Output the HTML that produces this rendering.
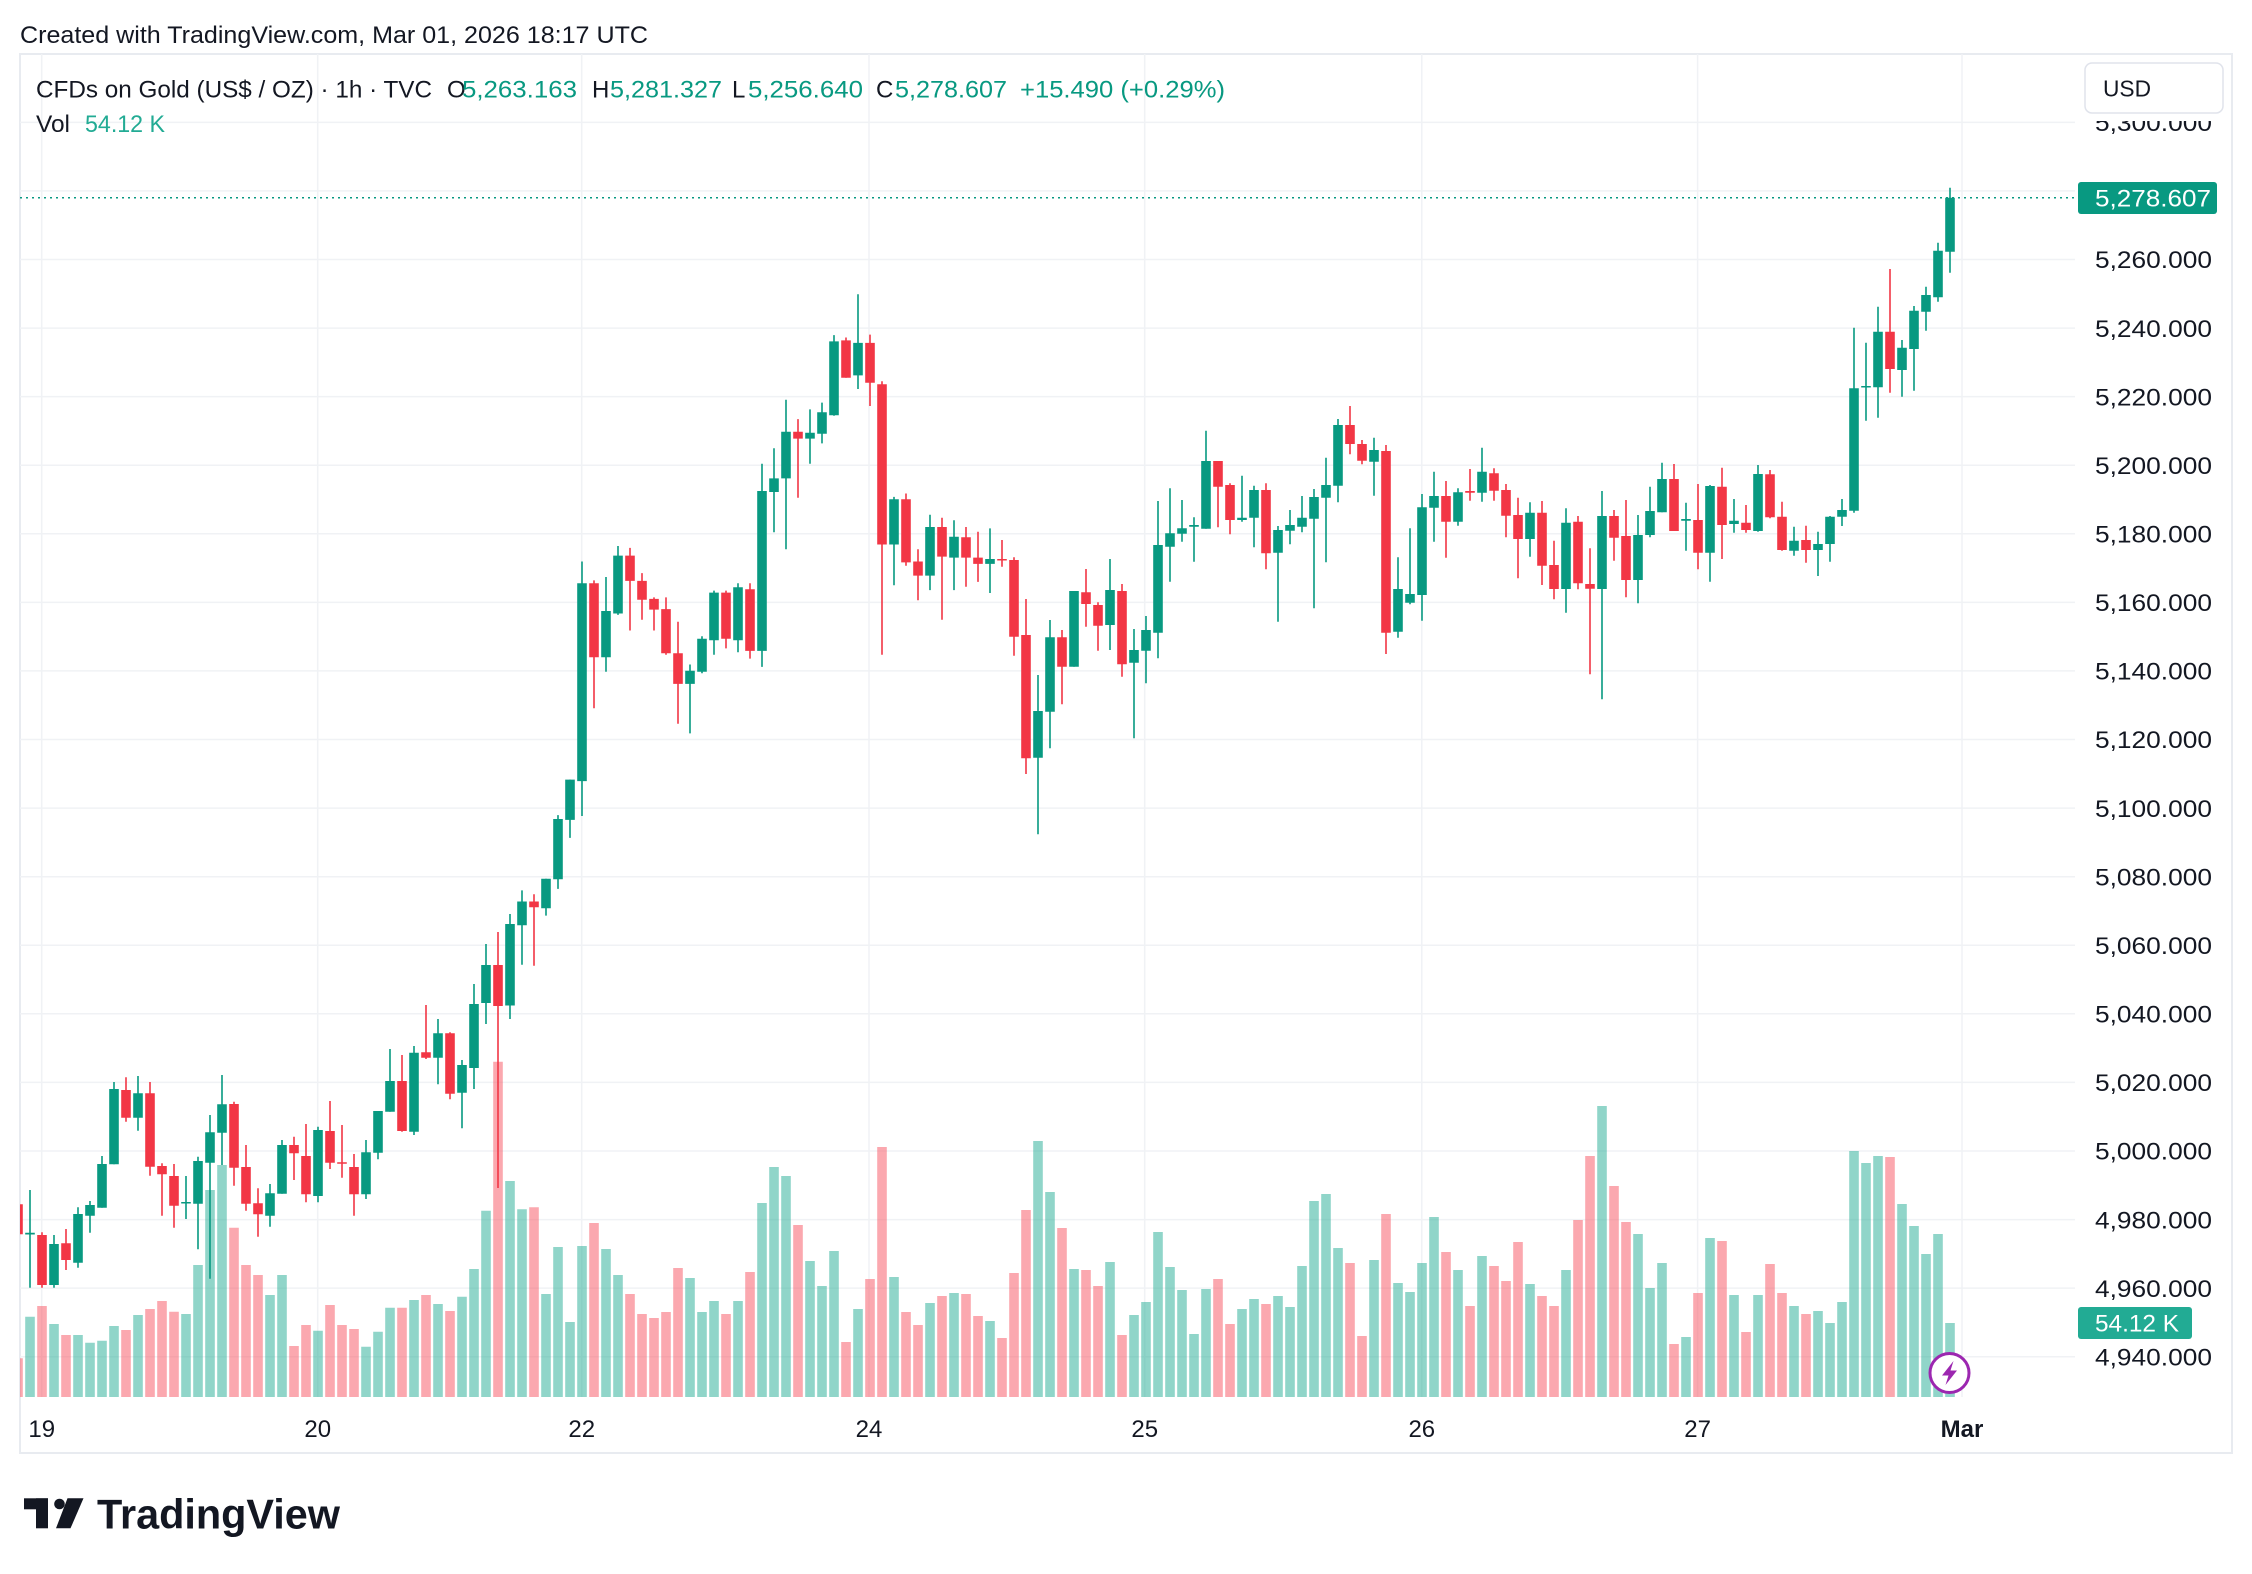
<!DOCTYPE html>
<html><head><meta charset="utf-8"><style>html,body{margin:0;padding:0;background:#fff;}svg{display:block}</style></head><body>
<svg width="2252" height="1574" viewBox="0 0 2252 1574" xmlns="http://www.w3.org/2000/svg" font-family="'Liberation Sans', Arial, sans-serif">
<defs><clipPath id="pane"><rect x="20" y="54" width="2055" height="1343"/></clipPath></defs>
<rect width="2252" height="1574" fill="#fff"/>
<text x="20" y="43" font-size="24" fill="#131722" textLength="628" lengthAdjust="spacingAndGlyphs">Created with TradingView.com, Mar 01, 2026 18:17 UTC</text>
<rect x="20" y="54" width="2212" height="1399" fill="none" stroke="#e8ebf0" stroke-width="2"/>
<g clip-path="url(#pane)">
<path d="M41.7 54V1397M317.7 54V1397M581.7 54V1397M869 54V1397M1144.7 54V1397M1421.8 54V1397M1697.6 54V1397M1962 54V1397" stroke="#f0f2f5" stroke-width="1.5"/>
<path d="M20 122.35H2075M20 190.9H2075M20 259.5H2075M20 328.1H2075M20 396.6H2075M20 465.2H2075M20 533.8H2075M20 602.4H2075M20 670.9H2075M20 739.5H2075M20 808.1H2075M20 876.7H2075M20 945.2H2075M20 1013.8H2075M20 1082.4H2075M20 1151H2075M20 1219.6H2075M20 1288.1H2075M20 1356.7H2075" stroke="#f0f2f5" stroke-width="1.5"/>
<path fill="rgba(34,171,148,0.5)" d="M25.2 1316.7h9.6V1397h-9.6zM49.2 1324h9.6V1397h-9.6zM73.2 1335h9.6V1397h-9.6zM85.2 1342.7h9.6V1397h-9.6zM97.2 1340.7h9.6V1397h-9.6zM109.2 1326h9.6V1397h-9.6zM133.2 1315h9.6V1397h-9.6zM181.2 1314h9.6V1397h-9.6zM193.2 1265h9.6V1397h-9.6zM205.2 1190h9.6V1397h-9.6zM217.2 1165h9.6V1397h-9.6zM265.2 1295h9.6V1397h-9.6zM277.2 1275h9.6V1397h-9.6zM313.2 1330.7h9.6V1397h-9.6zM361.2 1346.7h9.6V1397h-9.6zM373.2 1331.7h9.6V1397h-9.6zM385.2 1307.7h9.6V1397h-9.6zM409.2 1300h9.6V1397h-9.6zM433.2 1304h9.6V1397h-9.6zM457.2 1296.7h9.6V1397h-9.6zM469.2 1269h9.6V1397h-9.6zM481.2 1210.7h9.6V1397h-9.6zM505.2 1181h9.6V1397h-9.6zM517.2 1209.3h9.6V1397h-9.6zM541.2 1294h9.6V1397h-9.6zM553.2 1247h9.6V1397h-9.6zM565.2 1322h9.6V1397h-9.6zM577.2 1246h9.6V1397h-9.6zM601.2 1249h9.6V1397h-9.6zM613.2 1275h9.6V1397h-9.6zM685.2 1278h9.6V1397h-9.6zM697.2 1312h9.6V1397h-9.6zM709.2 1301h9.6V1397h-9.6zM733.2 1301h9.6V1397h-9.6zM757.2 1203h9.6V1397h-9.6zM769.2 1167h9.6V1397h-9.6zM781.2 1176h9.6V1397h-9.6zM805.2 1261h9.6V1397h-9.6zM817.2 1286h9.6V1397h-9.6zM829.2 1251h9.6V1397h-9.6zM853.2 1309h9.6V1397h-9.6zM889.2 1277h9.6V1397h-9.6zM925.2 1303h9.6V1397h-9.6zM949.2 1293h9.6V1397h-9.6zM985.2 1321h9.6V1397h-9.6zM1033.2 1141h9.6V1397h-9.6zM1045.2 1192h9.6V1397h-9.6zM1069.2 1269h9.6V1397h-9.6zM1105.2 1262h9.6V1397h-9.6zM1129.2 1315h9.6V1397h-9.6zM1141.2 1302h9.6V1397h-9.6zM1153.2 1232h9.6V1397h-9.6zM1165.2 1267h9.6V1397h-9.6zM1177.2 1290h9.6V1397h-9.6zM1189.2 1334h9.6V1397h-9.6zM1201.2 1289h9.6V1397h-9.6zM1237.2 1309h9.6V1397h-9.6zM1249.2 1299h9.6V1397h-9.6zM1273.2 1296h9.6V1397h-9.6zM1285.2 1307h9.6V1397h-9.6zM1297.2 1266h9.6V1397h-9.6zM1309.2 1201h9.6V1397h-9.6zM1321.2 1194h9.6V1397h-9.6zM1333.2 1248h9.6V1397h-9.6zM1369.2 1260h9.6V1397h-9.6zM1393.2 1283h9.6V1397h-9.6zM1405.2 1292h9.6V1397h-9.6zM1417.2 1263h9.6V1397h-9.6zM1429.2 1217h9.6V1397h-9.6zM1453.2 1270h9.6V1397h-9.6zM1477.2 1256h9.6V1397h-9.6zM1525.2 1284h9.6V1397h-9.6zM1561.2 1270h9.6V1397h-9.6zM1597.2 1106h9.6V1397h-9.6zM1633.2 1234h9.6V1397h-9.6zM1645.2 1288h9.6V1397h-9.6zM1657.2 1263h9.6V1397h-9.6zM1681.2 1337h9.6V1397h-9.6zM1705.2 1238h9.6V1397h-9.6zM1729.2 1295h9.6V1397h-9.6zM1753.2 1295h9.6V1397h-9.6zM1789.2 1306h9.6V1397h-9.6zM1813.2 1311h9.6V1397h-9.6zM1825.2 1323h9.6V1397h-9.6zM1837.2 1302h9.6V1397h-9.6zM1849.2 1151h9.6V1397h-9.6zM1861.2 1163h9.6V1397h-9.6zM1873.2 1156h9.6V1397h-9.6zM1897.2 1204h9.6V1397h-9.6zM1909.2 1226h9.6V1397h-9.6zM1921.2 1254h9.6V1397h-9.6zM1933.2 1234h9.6V1397h-9.6zM1945.2 1323h9.6V1397h-9.6z"/>
<path fill="rgba(247,82,95,0.5)" d="M13.2 1358.3h9.6V1397h-9.6zM37.2 1306h9.6V1397h-9.6zM61.2 1335h9.6V1397h-9.6zM121.2 1330h9.6V1397h-9.6zM145.2 1309h9.6V1397h-9.6zM157.2 1301h9.6V1397h-9.6zM169.2 1311.7h9.6V1397h-9.6zM229.2 1227.7h9.6V1397h-9.6zM241.2 1265h9.6V1397h-9.6zM253.2 1275h9.6V1397h-9.6zM289.2 1346h9.6V1397h-9.6zM301.2 1325h9.6V1397h-9.6zM325.2 1305h9.6V1397h-9.6zM337.2 1325h9.6V1397h-9.6zM349.2 1329h9.6V1397h-9.6zM397.2 1307.7h9.6V1397h-9.6zM421.2 1295h9.6V1397h-9.6zM445.2 1311h9.6V1397h-9.6zM493.2 1061.7h9.6V1397h-9.6zM529.2 1207.3h9.6V1397h-9.6zM589.2 1223h9.6V1397h-9.6zM625.2 1294h9.6V1397h-9.6zM637.2 1314h9.6V1397h-9.6zM649.2 1318h9.6V1397h-9.6zM661.2 1312h9.6V1397h-9.6zM673.2 1268h9.6V1397h-9.6zM721.2 1314h9.6V1397h-9.6zM745.2 1272h9.6V1397h-9.6zM793.2 1225h9.6V1397h-9.6zM841.2 1342h9.6V1397h-9.6zM865.2 1279h9.6V1397h-9.6zM877.2 1147h9.6V1397h-9.6zM901.2 1312h9.6V1397h-9.6zM913.2 1325h9.6V1397h-9.6zM937.2 1296h9.6V1397h-9.6zM961.2 1294h9.6V1397h-9.6zM973.2 1316h9.6V1397h-9.6zM997.2 1338h9.6V1397h-9.6zM1009.2 1273h9.6V1397h-9.6zM1021.2 1210h9.6V1397h-9.6zM1057.2 1228h9.6V1397h-9.6zM1081.2 1270h9.6V1397h-9.6zM1093.2 1286h9.6V1397h-9.6zM1117.2 1335h9.6V1397h-9.6zM1213.2 1279h9.6V1397h-9.6zM1225.2 1324h9.6V1397h-9.6zM1261.2 1304h9.6V1397h-9.6zM1345.2 1263h9.6V1397h-9.6zM1357.2 1336h9.6V1397h-9.6zM1381.2 1214h9.6V1397h-9.6zM1441.2 1252h9.6V1397h-9.6zM1465.2 1306h9.6V1397h-9.6zM1489.2 1266h9.6V1397h-9.6zM1501.2 1281h9.6V1397h-9.6zM1513.2 1242h9.6V1397h-9.6zM1537.2 1296h9.6V1397h-9.6zM1549.2 1306h9.6V1397h-9.6zM1573.2 1220h9.6V1397h-9.6zM1585.2 1156h9.6V1397h-9.6zM1609.2 1186h9.6V1397h-9.6zM1621.2 1222h9.6V1397h-9.6zM1669.2 1344h9.6V1397h-9.6zM1693.2 1293h9.6V1397h-9.6zM1717.2 1241h9.6V1397h-9.6zM1741.2 1332h9.6V1397h-9.6zM1765.2 1264h9.6V1397h-9.6zM1777.2 1293h9.6V1397h-9.6zM1801.2 1314h9.6V1397h-9.6zM1885.2 1157h9.6V1397h-9.6z"/>
<path stroke="#089981" stroke-width="1.6" fill="none" d="M30 1190V1287.7M54 1235V1287.7M78 1207.3V1267.7M90 1201V1232.7M102 1156V1207.7M114 1082V1164.3M138 1076V1130.7M186 1176V1219M198 1156.7V1249.3M210 1115V1278.7M222 1075V1165M270 1184V1226.7M282 1140V1193.7M318 1126.7V1202.3M366 1140V1199M378 1111V1159.3M390 1049V1111.7M414 1046V1135M438 1019V1084.3M462 1060V1128.3M474 984V1089M486 944V1024M510 914V1019M522 890.4V964.7M546 878.7V915.6M558 815.1V888.9M570 779.6V837.9M582 561.5V816M606 577V671.8M618 546V614.9M690 664.5V733.4M702 636.3V673.2M714 590.6V654.8M738 583.3V652.3M762 463.8V666.9M774 448.3V532.3M786 399.7V549.3M810 409.4V463.8M822 402.6V443.4M834 335.1V415.7M858 294.3V389M894 496.9V585.3M930 514.8V590.1M954 520.2V590.1M990 528.4V593M1038 675V834.3M1050 620V748.3M1074 591V666.7M1110 559V650M1134 629V738.3M1146 616V683.3M1158 501V658.3M1170 488.3V581.7M1182 500V541.7M1194 517.3V561.7M1206 430.7V528.7M1242 475.7V521.7M1254 485.7V547.3M1278 526V621.7M1290 510V544.3M1302 496V532.3M1314 489V608.3M1326 457.7V562.3M1338 419V502.3M1374 437.7V495.7M1398 557.3V637.7M1410 528.3V604.3M1422 494V620.7M1434 471.7V541.7M1458 488.3V525.7M1482 447.7V501.7M1530 502.3V556.7M1566 508.3V612.7M1602 491V699.3M1638 515V603.3M1650 486.7V537.3M1662 462.7V512.3M1686 502.7V550.7M1710 485V581.7M1734 499V532.7M1758 465V531.7M1794 526.7V555.7M1818 531.7V576M1830 516V561.7M1842 499V526M1854 327.7V512.7M1866 342.7V420.7M1878 306.7V417.7M1902 340V396.7M1914 306V390.7M1926 286.7V330.7M1938 242.7V301.7M1950 187.7V272.7"/>
<path stroke="#f23645" stroke-width="1.6" fill="none" d="M18 1204V1234.3M42 1232.3V1287.7M66 1229V1270M126 1077.3V1121.7M150 1082V1175.7M162 1163.3V1215.7M174 1164V1227.7M234 1101.7V1185.7M246 1145V1210.7M258 1188.3V1236.7M294 1136.7V1180M306 1124V1202.3M330 1101V1169M342 1125V1177.7M354 1154V1215.7M402 1055V1131.7M426 1005V1059M450 1032.3V1099.3M498 932V1188M534 894.2V965.7M594 580.4V708.2M630 547.9V630.5M642 573.1V619.8M654 597.4V630.5M666 597.4V654.8M678 621.7V723.7M726 590.6V648.4M750 583.3V658.6M798 419.1V497.8M846 337.5V377.8M870 334.6V406M882 381.2V654.8M906 493.5V565.8M918 549.3V600.3M942 517.7V619.8M966 527V586.7M978 531.8V581.9M1002 540V566.7M1014 557.3V655.7M1026 599V774M1062 630V704.3M1086 569V626.7M1098 602.3V650.7M1122 584V676.7M1218 461V527.3M1230 483.3V534.3M1266 483.3V569.3M1350 406V454.3M1362 440V464.3M1386 445V654M1446 481V557.7M1470 469V500.7M1494 468.3V500.7M1506 484V537.3M1518 497.7V578.3M1542 501V585M1554 540.7V599.3M1578 516V589.3M1590 548.3V674.3M1614 510V560.7M1626 500V597.3M1674 464V531M1698 484V569.3M1722 467.7V559M1746 505V532.7M1770 470V518.3M1782 501.7V550.7M1806 525.7V562.7M1890 269V392.7"/>
<path fill="#089981" d="M25.2 1232.8h9.6V1234.5h-9.6zM49.2 1244h9.6V1285h-9.6zM73.2 1214h9.6V1262.7h-9.6zM85.2 1205h9.6V1215.7h-9.6zM97.2 1164h9.6V1207.7h-9.6zM109.2 1089h9.6V1164.3h-9.6zM133.2 1093.3h9.6V1117.7h-9.6zM181.2 1202h9.6V1203.5h-9.6zM193.2 1161h9.6V1203.7h-9.6zM205.2 1132.3h9.6V1162.7h-9.6zM217.2 1104.3h9.6V1132.7h-9.6zM265.2 1193.3h9.6V1215.7h-9.6zM277.2 1145h9.6V1193.7h-9.6zM313.2 1130h9.6V1196h-9.6zM361.2 1152.3h9.6V1194.3h-9.6zM373.2 1111h9.6V1152.7h-9.6zM385.2 1081h9.6V1111.7h-9.6zM409.2 1052.7h9.6V1131.7h-9.6zM433.2 1033.3h9.6V1057.7h-9.6zM457.2 1065h9.6V1092.7h-9.6zM469.2 1004h9.6V1068h-9.6zM481.2 965h9.6V1003h-9.6zM505.2 924h9.6V1005.5h-9.6zM517.2 901.5h9.6V925.3h-9.6zM541.2 878.7h9.6V908.3h-9.6zM553.2 819h9.6V879.2h-9.6zM565.2 779.6h9.6V819.9h-9.6zM577.2 583.3h9.6V781.1h-9.6zM601.2 611h9.6V657.2h-9.6zM613.2 555.6h9.6V613.5h-9.6zM685.2 670.8h9.6V683.9h-9.6zM697.2 638.7h9.6V671.7h-9.6zM709.2 592.6h9.6V640.2h-9.6zM733.2 587.2h9.6V640.2h-9.6zM757.2 491h9.6V650.9h-9.6zM769.2 478.4h9.6V492h-9.6zM781.2 431.8h9.6V478.4h-9.6zM805.2 432.7h9.6V438.6h-9.6zM817.2 412.3h9.6V433.7h-9.6zM829.2 341.4h9.6V415.2h-9.6zM853.2 342.9h9.6V375.4h-9.6zM889.2 499.3h9.6V544.5h-9.6zM925.2 527h9.6V575.6h-9.6zM949.2 536.7h9.6V557.6h-9.6zM985.2 559h9.6V563.9h-9.6zM1033.2 711h9.6V757.7h-9.6zM1045.2 637.3h9.6V711.7h-9.6zM1069.2 591h9.6V666.7h-9.6zM1105.2 590h9.6V625h-9.6zM1129.2 650h9.6V662.7h-9.6zM1141.2 630h9.6V650.7h-9.6zM1153.2 545h9.6V632.7h-9.6zM1165.2 533.3h9.6V546.7h-9.6zM1177.2 528.3h9.6V533.7h-9.6zM1189.2 525h9.6V526.7h-9.6zM1201.2 461h9.6V528.7h-9.6zM1237.2 517.7h9.6V520h-9.6zM1249.2 490h9.6V517.7h-9.6zM1273.2 530h9.6V552.7h-9.6zM1285.2 525h9.6V530.7h-9.6zM1297.2 517.7h9.6V526.7h-9.6zM1309.2 497h9.6V518.7h-9.6zM1321.2 485h9.6V497.7h-9.6zM1333.2 425h9.6V485.7h-9.6zM1369.2 450h9.6V461.7h-9.6zM1393.2 589h9.6V631.7h-9.6zM1405.2 594h9.6V602.7h-9.6zM1417.2 507.3h9.6V595h-9.6zM1429.2 496h9.6V507.7h-9.6zM1453.2 492.3h9.6V521.7h-9.6zM1477.2 471.7h9.6V492.7h-9.6zM1525.2 512.7h9.6V539h-9.6zM1561.2 522.7h9.6V589h-9.6zM1597.2 516h9.6V589h-9.6zM1633.2 535h9.6V580h-9.6zM1645.2 511h9.6V535h-9.6zM1657.2 479h9.6V512.3h-9.6zM1681.2 519h9.6V520.7h-9.6zM1705.2 486h9.6V552.7h-9.6zM1729.2 520.7h9.6V524h-9.6zM1753.2 474h9.6V531h-9.6zM1789.2 540.7h9.6V550.7h-9.6zM1813.2 544h9.6V550h-9.6zM1825.2 516.7h9.6V544h-9.6zM1837.2 510h9.6V516.7h-9.6zM1849.2 388.3h9.6V510.7h-9.6zM1861.2 386h9.6V387.5h-9.6zM1873.2 331.7h9.6V387.3h-9.6zM1897.2 347.7h9.6V370h-9.6zM1909.2 310.7h9.6V349h-9.6zM1921.2 295h9.6V311.7h-9.6zM1933.2 250.7h9.6V297.3h-9.6zM1945.2 197.7h9.6V251.7h-9.6z"/>
<path fill="#f23645" d="M13.2 1204.3h9.6V1234.3h-9.6zM37.2 1235h9.6V1285h-9.6zM61.2 1243.3h9.6V1260h-9.6zM121.2 1090h9.6V1117.7h-9.6zM145.2 1093.3h9.6V1166.7h-9.6zM157.2 1166h9.6V1174.3h-9.6zM169.2 1176h9.6V1205.7h-9.6zM229.2 1104h9.6V1167.7h-9.6zM241.2 1167h9.6V1203.7h-9.6zM253.2 1203.3h9.6V1214.3h-9.6zM289.2 1145h9.6V1153.3h-9.6zM301.2 1156h9.6V1194.3h-9.6zM325.2 1131h9.6V1162.7h-9.6zM337.2 1162.3h9.6V1163.8h-9.6zM349.2 1167h9.6V1194.3h-9.6zM397.2 1081h9.6V1131h-9.6zM421.2 1052.3h9.6V1057.7h-9.6zM445.2 1033.3h9.6V1093.7h-9.6zM493.2 965h9.6V1006h-9.6zM529.2 901.5h9.6V907.3h-9.6zM589.2 583.3h9.6V657.2h-9.6zM625.2 555.6h9.6V580.9h-9.6zM637.2 580.9h9.6V599.8h-9.6zM649.2 598.9h9.6V609.6h-9.6zM661.2 609.1h9.6V653.3h-9.6zM673.2 653.3h9.6V683.9h-9.6zM721.2 592.6h9.6V638.7h-9.6zM745.2 589.2h9.6V650.9h-9.6zM793.2 431.8h9.6V438.6h-9.6zM841.2 340.4h9.6V377.8h-9.6zM865.2 342.9h9.6V382.7h-9.6zM877.2 384.2h9.6V544.5h-9.6zM901.2 499.3h9.6V562.4h-9.6zM913.2 561.5h9.6V575.6h-9.6zM937.2 527h9.6V556.6h-9.6zM961.2 537.2h9.6V557.6h-9.6zM973.2 557.6h9.6V563.9h-9.6zM997.2 559h9.6V560.5h-9.6zM1009.2 560h9.6V636.7h-9.6zM1021.2 635h9.6V758.3h-9.6zM1057.2 637.3h9.6V666.7h-9.6zM1081.2 592.3h9.6V604h-9.6zM1093.2 605h9.6V625.7h-9.6zM1117.2 591h9.6V664.3h-9.6zM1213.2 461h9.6V486.7h-9.6zM1225.2 485h9.6V520h-9.6zM1261.2 490h9.6V553.3h-9.6zM1345.2 425h9.6V444h-9.6zM1357.2 444h9.6V460.7h-9.6zM1381.2 451h9.6V632.7h-9.6zM1441.2 496h9.6V521.7h-9.6zM1465.2 491h9.6V492.7h-9.6zM1489.2 473.3h9.6V490.7h-9.6zM1501.2 490h9.6V515.7h-9.6zM1513.2 515h9.6V539h-9.6zM1537.2 512.7h9.6V565.7h-9.6zM1549.2 565h9.6V589h-9.6zM1573.2 521.7h9.6V583.3h-9.6zM1585.2 584h9.6V588.7h-9.6zM1609.2 516h9.6V537.7h-9.6zM1621.2 536h9.6V580h-9.6zM1669.2 479h9.6V531h-9.6zM1693.2 520h9.6V552.7h-9.6zM1717.2 486.7h9.6V525h-9.6zM1741.2 522.7h9.6V530h-9.6zM1765.2 474.3h9.6V517.3h-9.6zM1777.2 516.7h9.6V550h-9.6zM1801.2 540h9.6V550h-9.6zM1885.2 331.7h9.6V369h-9.6z"/>
<path d="M20 197.7H2078" stroke="#089981" stroke-width="1.5" stroke-dasharray="2 4"/>
<circle cx="1949.5" cy="1373" r="19.5" fill="#fff" stroke="#9c27b0" stroke-width="3"/>
<polygon points="1953.5,1361 1942,1375.5 1948.5,1375.5 1945.5,1385 1957,1370.5 1950.5,1370.5" fill="#9c27b0"/>
</g>
<text x="36" y="97.5" font-size="24" fill="#131722" textLength="396" lengthAdjust="spacingAndGlyphs">CFDs on Gold (US$ / OZ) · 1h · TVC</text>
<text x="447" y="97.5" font-size="24" fill="#131722">O</text>
<text x="462" y="97.5" font-size="24" fill="#089981" textLength="115" lengthAdjust="spacingAndGlyphs">5,263.163</text>
<text x="592" y="97.5" font-size="24" fill="#131722">H</text>
<text x="610" y="97.5" font-size="24" fill="#089981" textLength="112" lengthAdjust="spacingAndGlyphs">5,281.327</text>
<text x="732" y="97.5" font-size="24" fill="#131722">L</text>
<text x="748" y="97.5" font-size="24" fill="#089981" textLength="115" lengthAdjust="spacingAndGlyphs">5,256.640</text>
<text x="876" y="97.5" font-size="24" fill="#131722">C</text>
<text x="895" y="97.5" font-size="24" fill="#089981" textLength="112" lengthAdjust="spacingAndGlyphs">5,278.607</text>
<text x="1020" y="97.5" font-size="24" fill="#089981" textLength="205" lengthAdjust="spacingAndGlyphs">+15.490 (+0.29%)</text>
<text x="36" y="132" font-size="24" fill="#131722" textLength="34" lengthAdjust="spacingAndGlyphs">Vol</text>
<text x="85" y="132" font-size="24" fill="#22ab94" textLength="80" lengthAdjust="spacingAndGlyphs">54.12 K</text>
<g font-size="24" fill="#131722">
<text x="2095" y="131" textLength="117" lengthAdjust="spacingAndGlyphs">5,300.000</text>
<text x="2095" y="268.2" textLength="117" lengthAdjust="spacingAndGlyphs">5,260.000</text>
<text x="2095" y="336.8" textLength="117" lengthAdjust="spacingAndGlyphs">5,240.000</text>
<text x="2095" y="405.3" textLength="117" lengthAdjust="spacingAndGlyphs">5,220.000</text>
<text x="2095" y="473.9" textLength="117" lengthAdjust="spacingAndGlyphs">5,200.000</text>
<text x="2095" y="542.5" textLength="117" lengthAdjust="spacingAndGlyphs">5,180.000</text>
<text x="2095" y="611.1" textLength="117" lengthAdjust="spacingAndGlyphs">5,160.000</text>
<text x="2095" y="679.6" textLength="117" lengthAdjust="spacingAndGlyphs">5,140.000</text>
<text x="2095" y="748.2" textLength="117" lengthAdjust="spacingAndGlyphs">5,120.000</text>
<text x="2095" y="816.8" textLength="117" lengthAdjust="spacingAndGlyphs">5,100.000</text>
<text x="2095" y="885.4" textLength="117" lengthAdjust="spacingAndGlyphs">5,080.000</text>
<text x="2095" y="953.9" textLength="117" lengthAdjust="spacingAndGlyphs">5,060.000</text>
<text x="2095" y="1022.5" textLength="117" lengthAdjust="spacingAndGlyphs">5,040.000</text>
<text x="2095" y="1091.1" textLength="117" lengthAdjust="spacingAndGlyphs">5,020.000</text>
<text x="2095" y="1159.7" textLength="117" lengthAdjust="spacingAndGlyphs">5,000.000</text>
<text x="2095" y="1228.3" textLength="117" lengthAdjust="spacingAndGlyphs">4,980.000</text>
<text x="2095" y="1296.8" textLength="117" lengthAdjust="spacingAndGlyphs">4,960.000</text>
<text x="2095" y="1365.4" textLength="117" lengthAdjust="spacingAndGlyphs">4,940.000</text>
</g>
<rect x="2076" y="55" width="155" height="66" fill="#fff"/>
<rect x="2085" y="63" width="138" height="50" rx="7" fill="#fff" stroke="#e0e3eb" stroke-width="1.5"/>
<text x="2103" y="96.5" font-size="23" fill="#131722" textLength="48" lengthAdjust="spacingAndGlyphs">USD</text>
<rect x="2078" y="182" width="139" height="32" rx="3" fill="#089981"/>
<text x="2095" y="206.5" font-size="24" fill="#fff" textLength="116" lengthAdjust="spacingAndGlyphs">5,278.607</text>
<rect x="2078" y="1307" width="114" height="32" rx="3" fill="#22ab94"/>
<text x="2095" y="1331.5" font-size="24" fill="#fff" textLength="84" lengthAdjust="spacingAndGlyphs">54.12 K</text>
<g font-size="24" fill="#131722" text-anchor="middle">
<text x="41.7" y="1437">19</text>
<text x="317.7" y="1437">20</text>
<text x="581.7" y="1437">22</text>
<text x="869" y="1437">24</text>
<text x="1144.7" y="1437">25</text>
<text x="1421.8" y="1437">26</text>
<text x="1697.6" y="1437">27</text>
<text x="1962" y="1437" font-weight="bold">Mar</text>
</g>
<g fill="#131722">
<rect x="24" y="1498.3" width="24" height="11"/>
<rect x="36" y="1498.3" width="12" height="30"/>
<circle cx="59.5" cy="1504" r="5.3"/>
<polygon points="67.5,1498.3 83.5,1498.3 70.5,1528.3 56,1528.3"/>
<text x="97" y="1528.3" font-size="42" font-weight="bold" textLength="243" lengthAdjust="spacingAndGlyphs">TradingView</text>
</g>
</svg>
</body></html>
